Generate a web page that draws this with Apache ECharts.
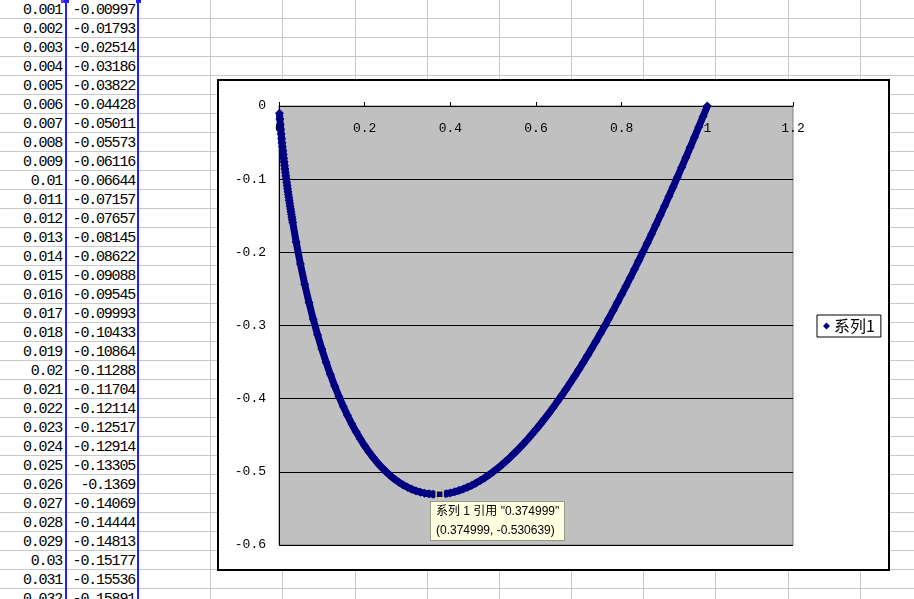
<!DOCTYPE html>
<html>
<head>
<meta charset="utf-8">
<script src="https://cdn.jsdelivr.net/npm/echarts@6/dist/echarts.min.js"></script>
<style>
html, body { margin: 0; padding: 0; background: #fff; }
#sheet { position: relative; width: 914px; height: 599px; overflow: hidden; }
.hl { position: absolute; left: 0; width: 914px; height: 1px; background: #c8c8c8; }
.vl { position: absolute; top: 0; width: 1px; height: 599px; background: #c8c8c8; }
.cell {
  position: absolute; height: 19px; line-height: 19px; text-align: right;
  font-family: "Liberation Mono", monospace; font-size: 15px; letter-spacing: -1.2px;
  color: #000; white-space: nowrap;
}
.sel { position: absolute; top: 0; width: 2px; height: 599px; background: #1f1fff; }
.handle { position: absolute; top: 0; width: 5px; height: 3px; background: #1f1fff; }
#chart {
  position: absolute; left: 217px; top: 79px; width: 673px; height: 492px;
  box-sizing: border-box; border: 2px solid #000; background: #fff;
}
</style>
</head>
<body>
<div id="sheet">
  <div id="chart"></div>
</div>
<script>
// spreadsheet columns A / B (visible rows)
const tableX = [0.001, 0.002, 0.003, 0.004, 0.005, 0.006, 0.007, 0.008, 0.009, 0.01,
  0.011, 0.012, 0.013, 0.014, 0.015, 0.016, 0.017, 0.018, 0.019, 0.02,
  0.021, 0.022, 0.023, 0.024, 0.025, 0.026, 0.027, 0.028, 0.029, 0.03,
  0.031, 0.032]
const tableY = [-0.00997, -0.01793, -0.02514, -0.03186, -0.03822, -0.04428, -0.05011, -0.05573, -0.06116, -0.06644,
  -0.07157, -0.07657, -0.08145, -0.08622, -0.09088, -0.09545, -0.09993, -0.10433, -0.10864, -0.11288,
  -0.11704, -0.12114, -0.12517, -0.12914, -0.13305, -0.1369, -0.14069, -0.14444, -0.14813, -0.15177,
  -0.15536, -0.15891]

// rest of the curve
const curveX = [0.04, 0.05, 0.06, 0.07, 0.08, 0.09, 0.10, 0.11, 0.12, 0.13, 0.14, 0.15, 0.16, 0.17, 0.18, 0.19,
  0.20, 0.21, 0.22, 0.23, 0.24, 0.25, 0.26, 0.27, 0.28, 0.29, 0.30, 0.31, 0.32, 0.33, 0.34, 0.35, 0.36, 0.37,
  0.38, 0.39, 0.40, 0.41, 0.42, 0.43, 0.44, 0.45, 0.46, 0.47, 0.48, 0.49, 0.50, 0.51, 0.52, 0.53, 0.54, 0.55,
  0.56, 0.57, 0.58, 0.59, 0.60, 0.61, 0.62, 0.63, 0.64, 0.65, 0.66, 0.67, 0.68, 0.69, 0.70, 0.71, 0.72, 0.73,
  0.74, 0.75, 0.76, 0.77, 0.78, 0.79, 0.80, 0.81, 0.82, 0.83, 0.84, 0.85, 0.86, 0.87, 0.88, 0.89, 0.90, 0.91,
  0.92, 0.93, 0.94, 0.95, 0.96, 0.97, 0.98, 0.99, 1.00]
const curveY = [-0.18575, -0.21610, -0.24353, -0.26856, -0.29151, -0.31265, -0.33219, -0.35029, -0.36707, -0.38264,
  -0.39711, -0.41055, -0.42302, -0.43459, -0.44531, -0.45523, -0.46439, -0.47282, -0.48057, -0.48767,
  -0.49413, -0.5, -0.50529, -0.51002, -0.51422, -0.51790, -0.52109, -0.52379, -0.52604, -0.52782,
  -0.52917, -0.53010, -0.53061, -0.53073, -0.53045, -0.52980, -0.52877, -0.52738, -0.52565, -0.52356,
  -0.52115, -0.51840, -0.51533, -0.51196, -0.50827, -0.50428, -0.5, -0.49543, -0.49058, -0.48545,
  -0.48004, -0.47437, -0.46844, -0.46225, -0.45581, -0.44911, -0.44218, -0.43500, -0.42759, -0.41995,
  -0.41207, -0.40397, -0.39564, -0.38710, -0.37835, -0.36938, -0.36020, -0.35082, -0.34123, -0.33144,
  -0.32146, -0.31128, -0.30091, -0.29034, -0.27959, -0.26866, -0.25754, -0.24625, -0.23477, -0.22312,
  -0.21129, -0.19930, -0.18713, -0.17479, -0.16229, -0.14963, -0.13680, -0.12382, -0.11067, -0.09737,
  -0.08392, -0.07030, -0.05654, -0.04263, -0.02856, -0.01435, 0]

// hovered point shown in the tooltip
const hoverX = 0.374999
const hoverY = -0.530639

const seriesName = '系列1'
const xTicks = { min: 0, max: 1.2, interval: 0.2 }
const yTicks = { min: -0.6, max: 0, interval: 0.1 }

// draw the worksheet behind the chart
const sheet = document.getElementById('sheet')
const chartEl = document.getElementById('chart')
function addDiv(cls, style, text) {
  const d = document.createElement('div')
  d.className = cls
  Object.assign(d.style, style)
  if (text !== undefined) d.textContent = text
  sheet.insertBefore(d, chartEl)
}
for (let k = 1; k <= 31; k++) addDiv('hl', { top: (19 * k - 1) + 'px' })
for (let i = 0; i < 12; i++) addDiv('vl', { left: Math.round(66 + i * 72.15) + 'px' })
tableX.forEach((x, i) => {
  addDiv('cell', { left: '0px', width: '62px', top: (i * 19 + 1) + 'px' }, String(x))
  addDiv('cell', { left: '67px', width: '68px', top: (i * 19 + 1) + 'px' }, String(tableY[i]))
})
addDiv('sel', { left: '65px' })
addDiv('sel', { left: '137px' })
addDiv('handle', { left: '64px' })
addDiv('handle', { left: '136px' })
addDiv('handle', { left: '61px', width: '3px', background: '#8a2be2' })

const points = tableX.map((x, i) => [x, tableY[i]])
  .concat(curveX.map((x, i) => [x, curveY[i]]))

const axisFont = { fontFamily: '"Liberation Mono", monospace', fontSize: 13, color: '#000' }

const chart = echarts.init(chartEl)
chart.setOption({
  animation: false,
  grid: {
    left: 60, top: 25, width: 514, height: 439,
    show: true, backgroundColor: '#c0c0c0', borderColor: '#808080', borderWidth: 1,
  },
  legend: {
    data: [{ name: seriesName, icon: 'diamond' }],
    left: 598, top: 234,
    padding: [3, 6, 3, 6],
    itemWidth: 7, itemHeight: 7, itemGap: 4,
    backgroundColor: '#fff', borderColor: '#000', borderWidth: 1, borderRadius: 0,
    textStyle: { fontFamily: '"Noto Sans CJK SC", sans-serif', fontSize: 16, color: '#000', padding: [0, 0, 0, -1] },
  },
  tooltip: {
    trigger: 'item',
    triggerOn: 'none',
    alwaysShowContent: true,
    transitionDuration: 0,
    backgroundColor: '#ffffe1',
    borderColor: '#9a9a8a',
    borderWidth: 1,
    padding: [0, 5],
    textStyle: { fontFamily: '"Liberation Sans", "Noto Sans CJK SC", sans-serif', fontSize: 12, color: '#000' },
    extraCssText: 'box-shadow:none;border-radius:0;line-height:19px;',
    position: (point) => [point[0] - 10, point[1] + 7],
    formatter: () => `系列 1 引用 "${hoverX}"<br/>(${hoverX}, ${hoverY})`,
  },
  xAxis: {
    type: 'value',
    position: 'top',
    min: xTicks.min, max: xTicks.max, interval: xTicks.interval,
    axisLine: { onZero: false, lineStyle: { color: '#000', width: 1 } },
    axisTick: { show: true, inside: false, length: 4, lineStyle: { color: '#000' } },
    axisLabel: { inside: true, margin: 16, ...axisFont },
    splitLine: { show: false },
  },
  yAxis: {
    type: 'value',
    min: yTicks.min, max: yTicks.max, interval: yTicks.interval,
    axisLine: { show: true, lineStyle: { color: '#000', width: 1 } },
    axisTick: { show: false },
    axisLabel: { margin: 13, ...axisFont },
    splitLine: { show: true, lineStyle: { color: '#000', width: 1 } },
  },
  series: [
    {
      name: seriesName,
      type: 'line',
      data: points,
      clip: false,
      symbol: 'diamond',
      symbolSize: 9,
      showSymbol: true,
      lineStyle: { color: '#000080', width: 7 },
      itemStyle: { color: '#000080' },
      tooltip: { show: false },
      emphasis: { disabled: true },
      z: 3,
    },
    {
      name: 'hover',
      type: 'scatter',
      data: [[hoverX, hoverY]],
      symbol: 'rect',
      symbolSize: 7,
      itemStyle: { color: '#000080', borderColor: '#ffff80', borderWidth: 1.5 },
      emphasis: { disabled: true },
      z: 5,
    },
  ],
})
chart.dispatchAction({ type: 'showTip', seriesIndex: 1, dataIndex: 0 })
</script>
</body>
</html>
